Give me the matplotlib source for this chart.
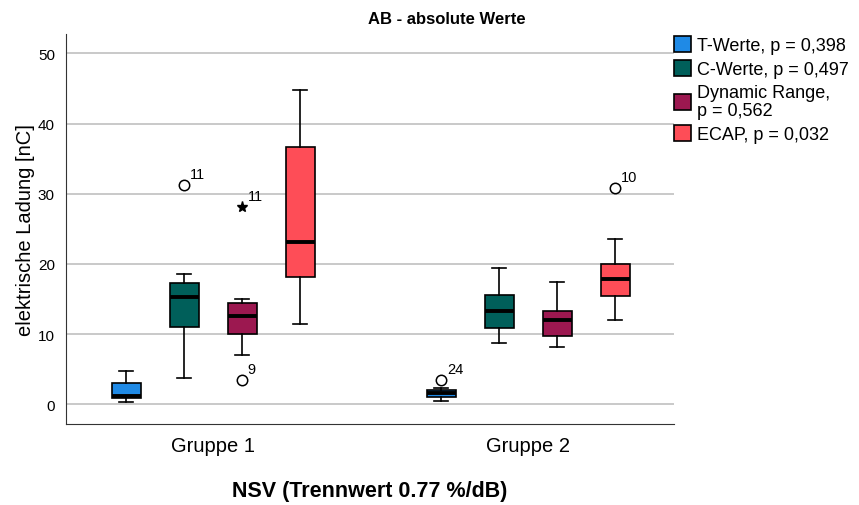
import matplotlib.pyplot as plt
from matplotlib.patches import Patch

plt.rcParams['font.family'] = ['Liberation Sans', 'DejaVu Sans']

groups = ['Gruppe 1', 'Gruppe 2']
series = ['T-Werte, p = 0,398', 'C-Werte, p = 0,497',
          'Dynamic Range,\np = 0,562', 'ECAP, p = 0,032']
colors = ['#1f8ae6', '#005f5a', '#9c1850', '#fe4d57']

# whislo, q1, median, q3, whishi per group
t_werte = [[0.37, 0.85, 1.23, 2.99, 4.79], [0.51, 1.04, 1.65, 2.04, 2.32]]
c_werte = [[3.79, 11.05, 15.33, 17.28, 18.56], [8.69, 10.83, 13.33, 15.57, 19.37]]
dyn_range = [[7.02, 10.06, 12.58, 14.43, 15.0], [8.16, 9.77, 12.0, 13.33, 17.46]]
ecap = [[11.48, 18.09, 23.08, 36.6, 44.8], [12.0, 15.38, 17.8, 19.98, 23.59]]
all_stats = [t_werte, c_werte, dyn_range, ecap]

# outliers: series, group, value, case number, marker
outliers = [
    (1, 0, 31.24, '11', 'o'),
    (2, 0, 28.06, '11', '*'),
    (2, 0, 3.46, '9', 'o'),
    (0, 1, 3.5, '24', 'o'),
    (3, 1, 30.77, '10', 'o'),
]

fig = plt.figure(figsize=(8.59, 5.06), dpi=100)
ax = fig.add_axes([66 / 859, 81 / 506, 608 / 859, 390 / 506])

step = 0.184
width = 0.092
offsets = [-1.5 * step, -0.5 * step, 0.5 * step, 1.5 * step]

for s, stats in enumerate(all_stats):
    bx = []
    for g, vals in enumerate(stats):
        lo, q1, med, q3, hi = vals
        bx.append(dict(whislo=lo, q1=q1, med=med, q3=q3, whishi=hi, fliers=[]))
    pos = [g + offsets[s] for g in range(len(groups))]
    ax.bxp(bx, positions=pos, widths=width, patch_artist=True, manage_ticks=False,
           boxprops=dict(facecolor=colors[s], edgecolor='black', linewidth=1.2),
           whiskerprops=dict(color='black', linewidth=1.2),
           capprops=dict(color='black', linewidth=1.2),
           medianprops=dict(color='black', linewidth=2.8),
           zorder=3)

for s, g, val, case, mk in outliers:
    x = g + offsets[s]
    if mk == 'o':
        ax.plot(x, val, 'o', mfc='white', mec='black', ms=7.5, mew=1.1, zorder=4)
    else:
        ax.plot(x, val, '*', color='black', ms=8, zorder=4)
    ax.annotate(case, (x, val), xytext=(4, 3), textcoords='offset points',
                ha='left', va='bottom', fontsize=10.5)

ax.set_xlim(-0.467, 1.463)
ax.set_ylim(-2.8, 52.75)
ax.set_yticks(range(0, 51, 10))
ax.set_xticks(range(len(groups)))
ax.set_xticklabels(groups, fontsize=14.5)
ax.tick_params(axis='y', labelsize=11, length=0, pad=8)
ax.tick_params(axis='x', length=0, pad=9)
ax.yaxis.grid(True, color='#c0c0c0', linewidth=1.2)
ax.set_axisbelow(True)
for side in ['top', 'right']:
    ax.spines[side].set_visible(False)
for side in ['left', 'bottom']:
    ax.spines[side].set_color('#333333')

ax.set_ylabel('elektrische Ladung [nC]', fontsize=14.5, labelpad=2)
ax.set_xlabel('NSV (Trennwert 0.77 %/dB)', fontsize=15.5, fontweight='bold', labelpad=18)
fig.text(447 / 859, 1 - 20 / 506, 'AB - absolute Werte', ha='center', va='center',
         fontsize=12, fontweight='bold')

handles = [Patch(facecolor=c, edgecolor='black', linewidth=1.2) for c in colors]
leg = fig.legend(handles, series, loc='upper left', bbox_to_anchor=(674 / 859, 1 - 37 / 506),
                 frameon=False, fontsize=13, handlelength=0.95, handleheight=1.0,
                 handletextpad=0.3, labelspacing=0.33, borderaxespad=0, borderpad=0)
for t in leg.get_texts():
    t.set_linespacing(1.05)

fig.savefig('out.png', dpi=100)
